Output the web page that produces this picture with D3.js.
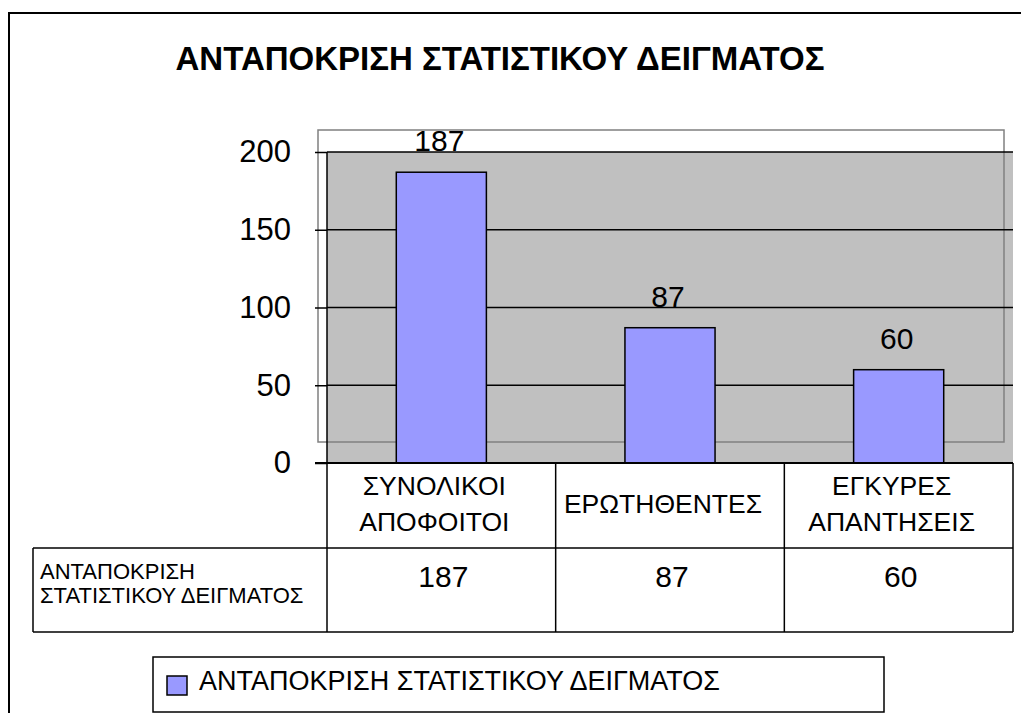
<!DOCTYPE html>
<html lang="el">
<head>
  <meta charset="UTF-8" />
  <title>ΑΝΤΑΠΟΚΡΙΣΗ ΣΤΑΤΙΣΤΙΚΟΥ ΔΕΙΓΜΑΤΟΣ</title>
  <script src="https://d3js.org/d3.v7.min.js"></script>
  <style>
    body { margin: 0; padding: 0; background: #fff; }
    svg { display: block; font-family: "Liberation Sans", Arial, sans-serif; }
    .line { stroke: #000; stroke-width: 1.5px; fill: none; }
  </style>
</head>
<body>
  <svg width="1021" height="713"></svg>
  <script>
    const title = "ΑΝΤΑΠΟΚΡΙΣΗ ΣΤΑΤΙΣΤΙΚΟΥ ΔΕΙΓΜΑΤΟΣ";
    const seriesName = "ΑΝΤΑΠΟΚΡΙΣΗ ΣΤΑΤΙΣΤΙΚΟΥ ΔΕΙΓΜΑΤΟΣ";
    const categories = ["ΣΥΝΟΛΙΚΟΙ ΑΠΟΦΟΙΤΟΙ", "ΕΡΩΤΗΘΕΝΤΕΣ", "ΕΓΚΥΡΕΣ ΑΠΑΝΤΗΣΕΙΣ"];
    const values = [187, 87, 60];
    const yTicks = [0, 50, 100, 150, 200];

    const svg = d3.select("svg");
    const barColor = "#9999ff";

    // plot area
    const plotLeft = 327, plotRight = 1013, plotTop = 152, plotBottom = 463;
    const headerBottom = 548, tableBottom = 632, tableLeft = 33;

    const x = d3.scaleBand().domain(categories).range([plotLeft, plotRight]);
    const y = d3.scaleLinear().domain([0, 200]).range([plotBottom, plotTop]);
    const barW = x.bandwidth() * 0.394;

    // outer frame (runs off the page)
    svg.append("rect")
      .attr("x", 9).attr("y", 13)
      .attr("width", 1100).attr("height", 800)
      .attr("fill", "none").attr("stroke", "#000").attr("stroke-width", 2);

    svg.append("text")
      .attr("x", 500).attr("y", 70)
      .attr("text-anchor", "middle")
      .attr("font-size", 33).attr("font-weight", "bold")
      .text(title);

    // plot background
    svg.append("rect")
      .attr("x", plotLeft).attr("y", plotTop)
      .attr("width", plotRight - plotLeft).attr("height", plotBottom - plotTop)
      .attr("fill", "#c0c0c0");

    // offset grey plot border, as in the original
    svg.append("rect")
      .attr("x", plotLeft - 9).attr("y", plotTop - 22)
      .attr("width", plotRight - plotLeft).attr("height", plotBottom - plotTop + 1)
      .attr("fill", "none").attr("stroke", "#808080").attr("stroke-width", 1.5);

    // gridlines
    svg.append("g").selectAll("line")
      .data(yTicks.filter(d => d > 0))
      .join("line")
      .attr("class", "line")
      .attr("x1", plotLeft).attr("x2", plotRight)
      .attr("y1", d => y(d)).attr("y2", d => y(d));

    // bars
    svg.append("g").selectAll("rect")
      .data(values)
      .join("rect")
      .attr("x", (d, i) => x(categories[i]) + (x.bandwidth() - barW) / 2)
      .attr("y", d => y(d))
      .attr("width", barW)
      .attr("height", d => y(0) - y(d))
      .attr("fill", barColor)
      .attr("stroke", "#000").attr("stroke-width", 1.5);

    // value labels
    svg.append("g").selectAll("text")
      .data(values)
      .join("text")
      .attr("x", (d, i) => x(categories[i]) + x.bandwidth() / 2 - 2)
      .attr("y", d => y(d) - 21)
      .attr("text-anchor", "middle")
      .attr("font-size", 30)
      .text(d => d);

    // y axis
    const axis = svg.append("g")
      .attr("transform", `translate(${plotLeft},0)`)
      .call(d3.axisLeft(y).tickValues(yTicks).tickSize(12).tickPadding(24));
    axis.select(".domain").remove();
    axis.selectAll(".tick line").attr("stroke", "#000").attr("stroke-width", 1.5);
    axis.selectAll(".tick text")
      .attr("font-size", 31)
      .attr("font-family", "'Liberation Sans', Arial, sans-serif")
      .attr("fill", "#000");

    // data table lines
    const cols = categories.map(c => x(c)).concat([plotRight]);
    const hLines = [
      [plotLeft - 12, plotRight, plotBottom, 2],
      [tableLeft, plotRight, headerBottom, 1.5],
      [tableLeft, plotRight, tableBottom, 1.5]
    ];
    svg.append("g").selectAll("line")
      .data(hLines)
      .join("line")
      .attr("x1", d => d[0]).attr("x2", d => d[1])
      .attr("y1", d => d[2]).attr("y2", d => d[2])
      .attr("stroke", "#000").attr("stroke-width", d => d[3]);

    svg.append("line").attr("class", "line")
      .attr("x1", plotLeft).attr("x2", plotLeft).attr("y1", plotTop).attr("y2", tableBottom);
    svg.append("line").attr("class", "line")
      .attr("x1", tableLeft).attr("x2", tableLeft).attr("y1", headerBottom).attr("y2", tableBottom);
    svg.append("g").selectAll("line")
      .data(cols.slice(1))
      .join("line")
      .attr("class", "line")
      .attr("x1", d => d).attr("x2", d => d)
      .attr("y1", plotBottom).attr("y2", tableBottom);

    // category headers
    const header = svg.append("g").selectAll("text")
      .data(categories)
      .join("text")
      .attr("text-anchor", "middle")
      .attr("font-size", 26.5);
    header.each(function (c) {
      const words = c.split(" ");
      const cx = x(c) + x.bandwidth() / 2 - 7;
      const mid = 513;
      d3.select(this).selectAll("tspan")
        .data(words)
        .join("tspan")
        .attr("x", cx)
        .attr("y", (w, i) => mid + (i - (words.length - 1) / 2) * 36)
        .text(w => w);
    });

    // series key in table
    const cut = seriesName.indexOf(" ");
    const keyLines = [seriesName.slice(0, cut), seriesName.slice(cut + 1)];
    svg.append("text")
      .attr("font-size", 22)
      .selectAll("tspan")
      .data(keyLines)
      .join("tspan")
      .attr("x", 40)
      .attr("y", (d, i) => 579 + i * 24)
      .text(d => d);

    // table values
    svg.append("g").selectAll("text")
      .data(values)
      .join("text")
      .attr("x", (d, i) => x(categories[i]) + x.bandwidth() / 2 + 2)
      .attr("y", 587)
      .attr("text-anchor", "middle")
      .attr("font-size", 30)
      .text(d => d);

    // legend
    const legend = svg.append("g");
    legend.append("rect")
      .attr("x", 153).attr("y", 657)
      .attr("width", 731).attr("height", 55)
      .attr("fill", "#fff").attr("stroke", "#000").attr("stroke-width", 1.5);
    legend.append("rect")
      .attr("x", 167).attr("y", 676)
      .attr("width", 20).attr("height", 19)
      .attr("fill", barColor).attr("stroke", "#000").attr("stroke-width", 1.5);
    legend.append("text")
      .attr("x", 199).attr("y", 690)
      .attr("font-size", 27)
      .text(seriesName);
  </script>
</body>
</html>
